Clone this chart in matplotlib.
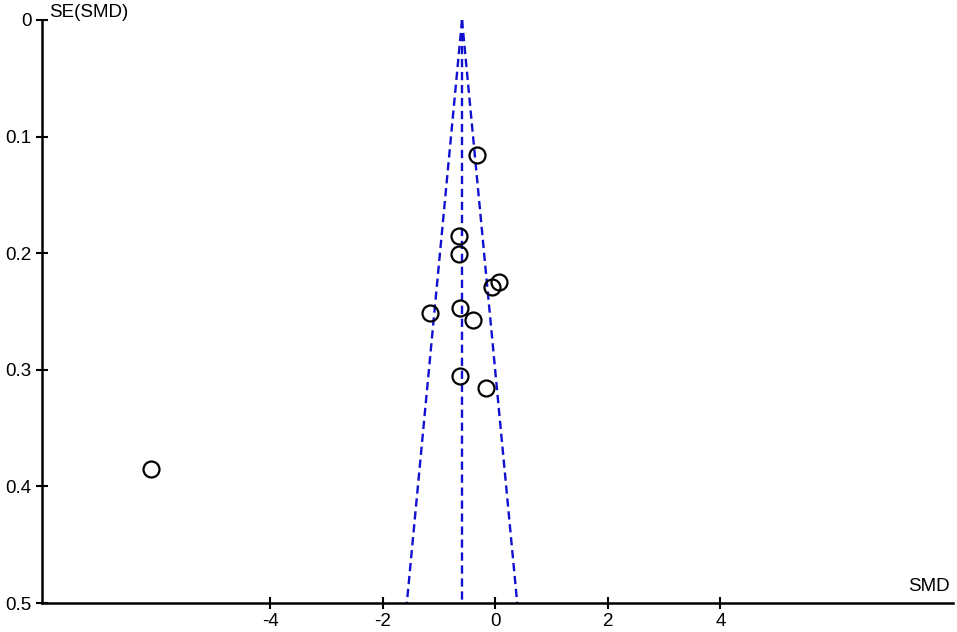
import matplotlib
matplotlib.use("Agg")
import matplotlib.pyplot as plt
import numpy as np

# study effects (SMD) and standard errors
smd = [-0.33, -0.65, -0.65, -0.06, 0.06, -1.16, -0.63, -0.39, -0.63, -0.16, -6.12]
se = [0.116, 0.185, 0.201, 0.229, 0.225, 0.251, 0.247, 0.257, 0.305, 0.316, 0.385]
pooled = -0.59
x_ticks = [-4, -2, 0, 2, 4]
y_ticks = [0, 0.1, 0.2, 0.3, 0.4, 0.5]

plt.rcParams["font.family"] = ["Liberation Sans", "DejaVu Sans"]
plt.rcParams["axes.unicode_minus"] = False

fig = plt.figure(figsize=(9.57, 6.32), dpi=100)
ax = fig.add_axes([42 / 957, 29 / 632, 911 / 957, 583 / 632])

blue = "#1010d0"
dash = (0, (3.5, 2))
se_line = np.array([0.0, 0.5])
ax.plot([pooled, pooled], se_line, ls=dash, color=blue, lw=1.7)
ax.plot(pooled - 1.96 * se_line, se_line, ls=dash, color=blue, lw=1.7)
ax.plot(pooled + 1.96 * se_line, se_line, ls=dash, color=blue, lw=1.7)

ax.plot(smd, se, "o", ms=11.5, mfc="none", mec="black", mew=1.6, clip_on=False)

ax.set_xlim(-8.05, 8.13)
ax.set_ylim(0.5, 0)
ax.set_xticks(x_ticks)
ax.set_xticklabels([str(t) for t in x_ticks])
ax.set_yticks(y_ticks)
ax.set_yticklabels(["0", "0.1", "0.2", "0.3", "0.4", "0.5"])

for side in ["top", "right"]:
    ax.spines[side].set_visible(False)
for side in ["left", "bottom"]:
    ax.spines[side].set_linewidth(1.8)
ax.tick_params(direction="inout", length=9, width=1.5, labelsize=13.5, pad=3)

ax.text(49 / 957, 1 - 4 / 632, "SE(SMD)", transform=fig.transFigure,
        fontsize=13.5, ha="left", va="top")
ax.text(950 / 957, 1 - 578 / 632, "SMD", transform=fig.transFigure,
        fontsize=13.5, ha="right", va="top")

fig.savefig("out.png", dpi=100)
